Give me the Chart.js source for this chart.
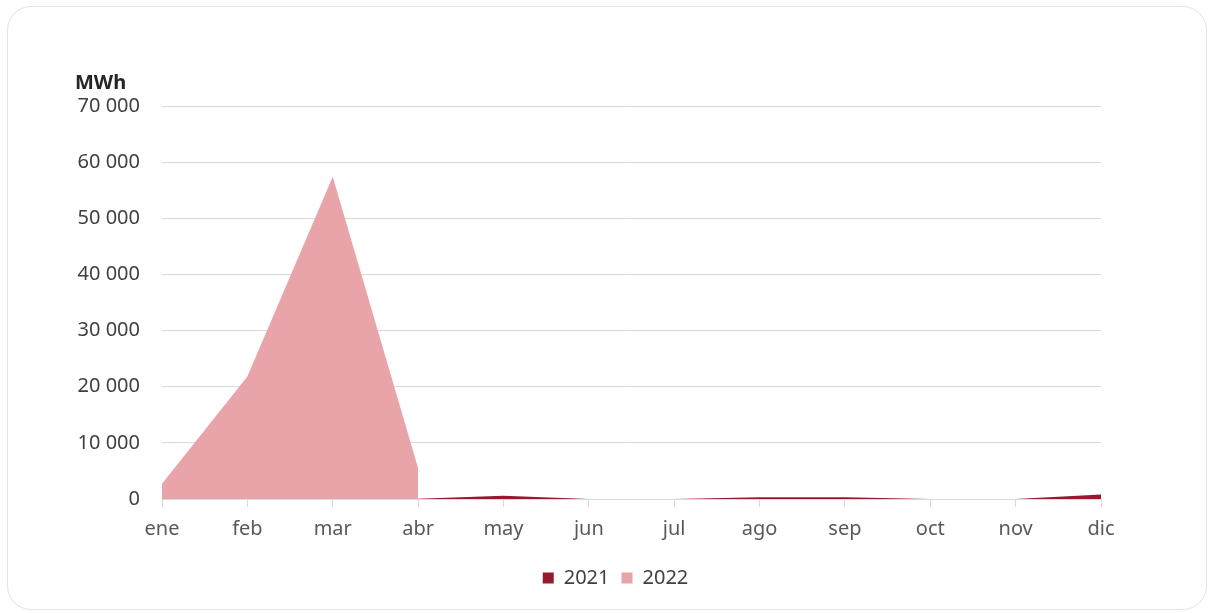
<!DOCTYPE html>
<html>
<head>
<meta charset="utf-8">
<script src="https://cdn.jsdelivr.net/npm/chart.js@4"></script>
<style>
    html, body { margin: 0; padding: 0; background: #fff; }
    .card {
        position: absolute; left: 7px; top: 6px; width: 1200px; height: 604px;
        border: 1px solid #e3e3e3; border-radius: 24px; box-sizing: border-box;
    }
    .wrap { position: absolute; left: 0; top: 0; width: 1211px; height: 613px; }
</style>
</head>
<body>
<div class="card"></div>
<div class="wrap"><canvas id="energyChart"></canvas></div>
<script>
const months = ['ene', 'feb', 'mar', 'abr', 'may', 'jun', 'jul', 'ago', 'sep', 'oct', 'nov', 'dic'];
const values2021 = [500, 400, 600, 50, 600, 0, 0, 300, 300, 0, 0, 800];
const values2022 = [2700, 21800, 57400, 5500, null, null, null, null, null, null, null, null];
const yTicks = [0, 10000, 20000, 30000, 40000, 50000, 60000, 70000];

const fmt = (v) => String(v).replace(/\B(?=(\d{3})+(?!\d))/g, ' ');

// "MWh" label above the y axis
const unitLabel = {
    id: 'unitLabel',
    afterDraw(chart) {
        const { ctx, chartArea } = chart;
        ctx.save();
        ctx.font = 'bold 20px "Noto Sans"';
        ctx.fillStyle = '#262626';
        ctx.textAlign = 'left';
        ctx.textBaseline = 'middle';
        ctx.fillText('MWh', chartArea.left - 87, chartArea.top - 23);
        ctx.restore();
    }
};

const ctx = document.getElementById('energyChart').getContext('2d');

new Chart(ctx, {
    type: 'line',
    data: {
        labels: months,
        datasets: [
            {
                label: '2022',
                data: values2022,
                backgroundColor: '#e8a4a9',
                borderColor: '#e8a4a9',
                borderWidth: 0,
                fill: 'origin',
                pointRadius: 0,
                tension: 0,
                spanGaps: false
            },
            {
                label: '2021',
                data: values2021,
                backgroundColor: '#961a2e',
                borderColor: '#961a2e',
                borderWidth: 0,
                fill: 'origin',
                pointRadius: 0,
                tension: 0
            }
        ]
    },
    options: {
        responsive: true,
        maintainAspectRatio: false,
        animation: false,
        layout: {
            padding: { left: 20, right: 0, top: 106, bottom: 15 }
        },
        scales: {
            x: {
                offset: false,
                grid: {
                    display: true,
                    drawOnChartArea: false,
                    drawTicks: true,
                    tickLength: 8,
                    color: '#d9d9d9'
                },
                border: { display: true, color: '#d9d9d9' },
                ticks: {
                    color: '#595959',
                    font: { family: 'Noto Sans', size: 20 },
                    padding: 10,
                    maxRotation: 0,
                    autoSkip: false
                },
                afterFit: (scale) => { scale.height = 57; }
            },
            y: {
                min: 0,
                max: 70000,
                afterBuildTicks: (scale) => {
                    scale.ticks = yTicks.map(v => ({ value: v }));
                },
                grid: { color: '#d9d9d9', drawTicks: false },
                border: { display: false },
                ticks: {
                    color: '#404040',
                    font: { family: 'Noto Sans', size: 20 },
                    padding: 22,
                    callback: (v) => fmt(v)
                },
                afterFit: (scale) => { scale.width = 142; }
            },
            // empty right-side spacer so the plot ends where the reference does
            spacer: {
                type: 'linear',
                position: 'right',
                display: true,
                grid: { display: false },
                border: { display: false },
                ticks: { display: false },
                afterFit: (scale) => { scale.width = 110; }
            }
        },
        plugins: {
            legend: {
                display: true,
                position: 'bottom',
                labels: {
                    boxWidth: 11,
                    boxHeight: 11,
                    padding: 12,
                    color: '#404040',
                    font: { family: 'Noto Sans', size: 20 },
                    sort: (a, b) => a.text.localeCompare(b.text)
                }
            },
            tooltip: { enabled: false }
        }
    },
    plugins: [unitLabel]
});
</script>
</body>
</html>
